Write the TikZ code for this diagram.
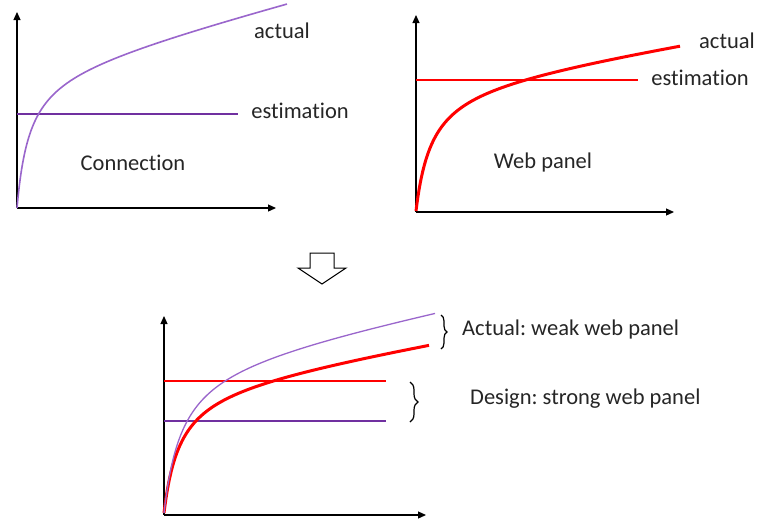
\documentclass[tikz,border=0pt]{standalone}
\usepackage{fontspec}
\setmainfont{Carlito}[Ligatures=NoCommon]
\frenchspacing
\usetikzlibrary{arrows.meta,decorations.pathreplacing}
\definecolor{pdark}{HTML}{7030A0}
\definecolor{plight}{HTML}{9A66CC}
\definecolor{myred}{HTML}{FF0000}
\tikzset{
  axis/.style={line width=1.2pt,-{Triangle[length=8pt,width=7pt]}},
  pcurve/.style={plight,line width=1.6pt},
  pline/.style={pdark,line width=2.8pt},
  rcurve/.style={myred,line width=3pt},
  rline/.style={myred,line width=2.8pt},
  lbl/.style={font=\fontsize{22.5}{26}\selectfont,text=black!85,inner sep=0pt},
  brc/.style={decorate,decoration={brace,amplitude=6pt},line width=1.2pt}
}
\begin{document}
\begin{tikzpicture}[x=1pt,y=-1pt]
\path[use as bounding box,fill=white] (0,0) rectangle (757,523);
% panel 1
\coordinate (o1) at (17,208);
\coordinate (y1) at (17,12);
\coordinate (x1) at (276,208);
\draw[axis] (o1) -- (y1);
\draw[axis] (o1) -- (x1);
\draw[pline] (17,114) -- (238,114);
\draw[pcurve] plot[domain=0:270,samples=250] ({17+\x},{208-(140*(\x/(12.6+\x))+0.26*\x)});
\node[lbl] (a1) at (282,31) {actual};
\node[lbl] (e1) at (300,111) {estimation};
\node[lbl] (c1) at (133,163) {Connection};
% panel 2
\coordinate (o2) at (416,212);
\coordinate (y2) at (416,15);
\coordinate (x2) at (674,212);
\draw[axis] (o2) -- (y2);
\draw[axis] (o2) -- (x2);
\draw[rline] (416,80) -- (638,80);
\draw[rcurve] plot[domain=0:264,samples=250] ({416+\x},{211-(130*(\x/(16+\x))+0.16*\x)});
\node[lbl] (a2) at (727,41) {actual};
\node[lbl] (e2) at (700,78) {estimation};
\node[lbl] (w2) at (543,162) {Web panel};
% down arrow
\draw[line width=1pt,fill=white] (310,253) -- (334,253) -- (334,268) -- (346,268) -- (322,284) -- (298,268) -- (310,268) -- cycle;
% bottom panel
\coordinate (o3) at (164,515);
\coordinate (y3) at (164,316);
\coordinate (x3) at (426,515);
\draw[axis] (o3) -- (y3);
\draw[axis] (o3) -- (x3);
\draw[rline] (164,381) -- (386,381);
\draw[pline] (164,421) -- (386,421);
\draw[rcurve] plot[domain=0:265,samples=250] ({164+\x},{513-(130*(\x/(16+\x))+0.17*\x)});
\draw[pcurve,line width=1.3pt] plot[domain=0:271,samples=250] ({164+\x},{513-(155*(\x/(18+\x))+0.2*\x)});
\draw[brc] (441,315) -- (441,349);
\draw[brc,decoration={amplitude=8pt}] (410,382) -- (410,422);
\node[lbl,anchor=west] (t1) at (462,329) {Actual: weak web panel};
\node[lbl,anchor=west] (t2) at (470,399) {Design: strong web panel};
\end{tikzpicture}
\end{document}
